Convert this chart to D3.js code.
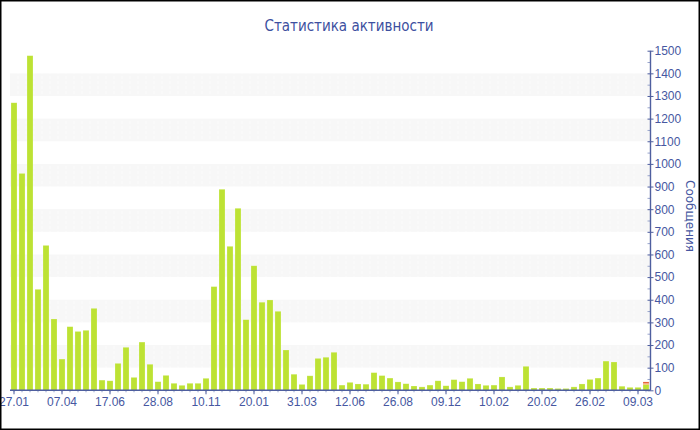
<!DOCTYPE html>
<html>
<head>
<meta charset="utf-8">
<script src="https://cdn.jsdelivr.net/npm/d3@7"></script>
<style>
  body { margin: 0; background: #fff; }
  svg { display: block; }
</style>
</head>
<body>
<svg class="chart"></svg>
<script>
// tick labels, one per 6 bars
const tickLabels = ['27.01', '07.04', '17.06', '28.08', '10.11', '20.01', '31.03',
  '12.06', '26.08', '09.12', '10.02', '20.02', '26.02', '09.03'];

// messages per period (main series)
const greenValues = [
  1270, 958, 1478, 446, 640, 315, 138, 281, 260, 265, 362, 45, 42, 119, 190,
  57, 213, 115, 38, 66, 31, 22, 31, 31, 53, 458, 888, 636, 804, 312,
  550, 389, 399, 349, 178, 71, 26, 64, 141, 146, 168, 23, 35, 28, 27,
  78, 65, 54, 37, 29, 19, 15, 23, 42, 20, 47, 38, 53, 28, 22,
  23, 59, 15, 22, 106, 10, 10, 10, 8, 8, 15, 28, 48, 54, 129, 125, 18, 13, 13, 25,
];
// only the last bar has the extra segments
const orangeValues = greenValues.map((v, i) => (i === greenValues.length - 1 ? 5 : 0));
const redValues = greenValues.map((v, i) => (i === greenValues.length - 1 ? 7 : 0));

const seriesKeys = ['green', 'orange', 'red'];
const seriesColors = { green: '#bde234', orange: '#f29a2e', red: '#e5582c' };
const yTicks = d3.range(0, 1501, 100);
const yTitle = 'Сообщения';
const chartTitle = 'Статистика активности';

const startApp = () => {
  const size = { width: 700, height: 430 };
  const plot = {
    left: 10, right: 650.5, top: 50.7, bottom: 390.3,
  };
  const textColor = '#4657a1';
  const axisColor = '#4f5f9f';

  const svg = d3.select('.chart')
    .attr('width', size.width)
    .attr('height', size.height)
    .style('font-family', '"DejaVu Sans", Verdana, sans-serif');

  const rows = greenValues.map((g, i) => ({
    idx: i, green: g, orange: orangeValues[i], red: redValues[i],
  }));
  const stacked = d3.stack().keys(seriesKeys)(rows);

  const xScale = d3.scaleBand()
    .domain(d3.range(rows.length))
    .range([plot.left, plot.right - 0.5])
    .paddingInner(0.25)
    .paddingOuter(0.125);
  const yScale = d3.scaleLinear().domain([0, 1500]).range([plot.bottom, plot.top]);

  // alternating grey bands
  svg.append('g')
    .selectAll('rect')
    .data(yTicks.filter(t => t % 200 === 100 && t < 1500))
    .enter()
    .append('rect')
    .attr('x', plot.left)
    .attr('width', plot.right - plot.left)
    .attr('y', t => yScale(t + 100))
    .attr('height', t => yScale(t) - yScale(t + 100))
    .attr('fill', '#f7f7f7');

  // faint vertical separators over the bands
  svg.append('g')
    .selectAll('line')
    .data(d3.range(1, rows.length))
    .enter()
    .append('line')
    .attr('x1', i => xScale(i) - 1)
    .attr('x2', i => xScale(i) - 1)
    .attr('y1', plot.top)
    .attr('y2', plot.bottom)
    .attr('stroke', '#fff')
    .attr('stroke-width', 1)
    .attr('stroke-dasharray', '3,2')
    .attr('opacity', 0.7);

  svg.append('g')
    .selectAll('g')
    .data(stacked)
    .enter()
    .append('g')
    .attr('fill', s => seriesColors[s.key])
    .selectAll('rect')
    .data(s => s.filter(d => d[1] > d[0]))
    .enter()
    .append('rect')
    .attr('x', d => xScale(d.data.idx))
    .attr('width', xScale.bandwidth())
    .attr('y', d => yScale(d[1]))
    .attr('height', d => yScale(d[0]) - yScale(d[1]))
    .attr('stroke', 'rgba(255,255,255,0.35)')
    .attr('stroke-width', 0.6);

  // x axis: minor ticks at every bar, major every 6
  const xMinor = d3.axisBottom(xScale).tickSize(2).tickFormat('');
  const xMajor = d3.axisBottom(xScale)
    .tickValues(tickLabels.map((t, i) => i * 6))
    .tickSize(4)
    .tickPadding(3)
    .tickFormat(i => tickLabels[i / 6]);

  const xMinorG = svg.append('g')
    .attr('transform', `translate(0, ${plot.bottom})`)
    .call(xMinor);
  xMinorG.select('.domain').remove();
  xMinorG.selectAll('line').attr('stroke', '#9aa6cc');

  const xG = svg.append('g')
    .attr('transform', `translate(0, ${plot.bottom})`)
    .call(xMajor);
  xG.select('.domain')
    .attr('d', `M${plot.left},0H${plot.right}`)
    .attr('stroke', axisColor)
    .attr('stroke-width', 1.4);
  xG.selectAll('line').attr('stroke', axisColor);
  xG.selectAll('text')
    .attr('fill', textColor)
    .style('font-size', '12px');

  // right y axis
  const yMinor = d3.axisLeft(yScale)
    .tickValues(yTicks.slice(0, -1).map(t => t + 50))
    .tickSize(3)
    .tickFormat('');
  const yMinorG = svg.append('g')
    .attr('transform', `translate(${plot.right}, 0)`)
    .call(yMinor);
  yMinorG.select('.domain').remove();
  yMinorG.selectAll('line').attr('stroke', '#9aa6cc');

  const yAxis = d3.axisRight(yScale)
    .tickValues(yTicks)
    .tickSize(3)
    .tickPadding(1)
    .tickFormat(d3.format('d'));
  const yG = svg.append('g')
    .attr('transform', `translate(${plot.right}, 0)`)
    .call(yAxis);
  yG.select('.domain')
    .attr('d', `M0,${plot.top}V${plot.bottom}`)
    .attr('stroke', axisColor)
    .attr('stroke-width', 1.4);
  yG.selectAll('.tick line')
    .attr('x1', -3)
    .attr('stroke', axisColor);
  yG.selectAll('text')
    .attr('fill', textColor)
    .style('font-size', '12px');

  // axis title sits against the right frame, as in the original
  svg.append('text')
    .attr('transform', 'translate(686, 216) rotate(90)')
    .attr('text-anchor', 'middle')
    .attr('fill', textColor)
    .style('font-size', '12px')
    .text(yTitle);

  svg.append('text')
    .attr('x', 349)
    .attr('y', 31)
    .attr('text-anchor', 'middle')
    .attr('fill', '#3d50a0')
    .style('font-family', '"Liberation Sans Narrow", "DejaVu Sans Condensed", sans-serif')
    .style('font-size', '15px')
    .text(chartTitle);

  // outer frame
  svg.append('rect')
    .attr('x', 0)
    .attr('y', 0)
    .attr('width', size.width)
    .attr('height', size.height)
    .attr('fill', 'none')
    .attr('stroke', '#000')
    .attr('stroke-width', 3);
};

window.onload = startApp;
</script>
</body>
</html>
